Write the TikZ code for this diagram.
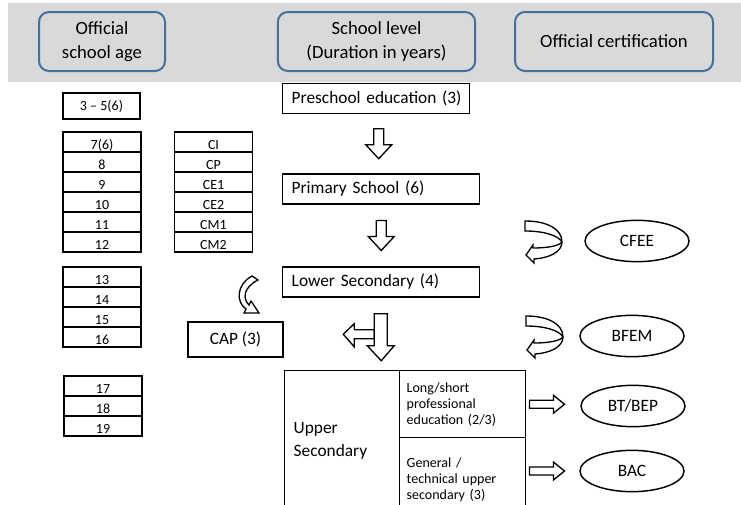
\documentclass[tikz,border=0pt]{standalone}
\usepackage{fontspec}
\setmainfont{Carlito}
\usepackage{tikz}
\usepackage{xcolor}
\usetikzlibrary{shapes.geometric,calc}
\definecolor{bandgray}{HTML}{D9D9D9}
\definecolor{hdblue}{HTML}{41719C}
\newcommand{\mainsz}{\fontsize{13}{17}\selectfont}
\newcommand{\headsz}{\fontsize{14}{17.5}\selectfont}
\newcommand{\smallsz}{\fontsize{10.5}{12}\selectfont}

\begin{document}
\begin{tikzpicture}[x=0.75pt, y=-0.75pt, line width=1.1pt, font=\mainsz,
	hdbox/.style={draw=hdblue, fill=bandgray, line width=1.5pt, rounded corners=7.5pt, align=center, font=\headsz, minimum height=44.25pt},
	lvlbox/.style={draw, anchor=west, align=left, text width=#1, inner xsep=3pt, minimum height=22.5pt, execute at begin node={\hspace*{3.75pt}}},
	agecell/.style={draw, font=\smallsz, minimum width=58.5pt, minimum height=15pt, inner sep=0pt, text height=10.5pt, text depth=0pt},
	subcell/.style={draw, anchor=north west, font=\smallsz, align=left, text width=84pt, inner xsep=5.25pt},
	certell/.style={draw, ellipse, minimum width=78pt, minimum height=31pt, inner sep=0pt},
	blockarr/.style={draw, fill=white, line width=1pt, line join=miter},
	downarr/.pic={\draw[blockarr] (-5,-15) -- (5,-15) -- (5,1) -- (13,1) -- (0,15) -- (-13,1) -- (-5,1) -- cycle;},
	rightarr/.pic={\draw[blockarr] (0,-4) -- (24,-4) -- (24,-9) -- (35,0) -- (24,9) -- (24,4) -- (0,4) -- cycle;},
	turnarr/.pic={\draw[blockarr] (0,0) .. controls (22,0) and (37,8) .. (37,21) .. controls (37,31) and (24,37) .. (9,38) -- (9,42) -- (1,34) -- (8,24) -- (8,27) .. controls (22,27) and (34,25) .. (37,21) .. controls (33,14) and (18,10) .. (0,10) -- cycle;}]
	\useasboundingbox (0,0) rectangle (741,504);
	\fill[bandgray] (8,3) rectangle (741,82);
	\draw (102,41.5) node[hdbox, minimum width=94.5pt] (agehd) {Official\\school age};
	\draw (376.5,41.5) node[hdbox, minimum width=148pt] (levelhd) {School level\\(Duration in years)};
	\draw (614,41.5) node[hdbox, minimum width=148.5pt] (certhd) {Official certification};
	\draw (101.5,106) node[draw, font=\smallsz, minimum width=58pt, minimum height=19.5pt] (agepre) {3 -- 5(6)};
	\foreach \t [count=\i] in {7(6),8,9,10,11,12}
		\node[agecell] (age\i) at (102,{122+20*\i}) {\t};
	\foreach \t [count=\i] in {CI,CP,CE1,CE2,CM1,CM2}
		\node[agecell] (grade\i) at (213.5,{122+20*\i}) {\t};
	\foreach \t [count=\i] in {13,14,15,16}
		\node[agecell] (agelow\i) at (102,{257+20*\i}) {\t};
	\foreach \t [count=\i] in {17,18,19}
		\node[agecell] (ageup\i) at (103,{366+20*\i}) {\t};
	\draw (282,98.5) node[lvlbox=134.25pt] (pre) {Preschool education (3)};
	\draw (282,189) node[lvlbox=141.75pt] (prim) {Primary School (6)};
	\draw (282,282) node[lvlbox=141.75pt] (lowsec) {Lower Secondary (4)};
	\draw (235.5,339.5) node[draw, minimum width=71.25pt, minimum height=26.25pt] (cap) {CAP (3)};
	\draw (284,370) node[draw, anchor=north west, minimum height=105pt, text width=72.75pt, align=left, inner xsep=6.75pt] (upsec) {Upper\\Secondary};
	\node[subcell, minimum height=50.25pt] (longpro) at (399,370) {Long/short\\professional\\education (2/3)};
	\node[subcell, minimum height=63pt] (gentech) at (399,437) {General /\\technical upper\\secondary (3)};
	\node[certell] (cfee) at (637,241) {CFEE};
	\node[certell] (bfem) at (632,336) {BFEM};
	\node[certell] (btbep) at (633,406) {BT/BEP};
	\node[certell] (bac) at (632,471) {BAC};
	\pic at ($(pre.south)!0.5!(prim.north)$) {downarr};
	\pic at ($(prim.south)!0.5!(lowsec.north)$) {downarr};
	\coordinate (split) at ($(lowsec.south)+(0,16)$);
	\begin{scope}[shift={(split)}]
		\draw[blockarr] (-7,16) -- (-27,16) -- (-27,10) -- (-38,20.5) -- (-27,33) -- (-27,25) -- (-7,25) -- cycle;
		\draw[blockarr] (-7,0) -- (6,0) -- (6,32) -- (13,32) -- (0,47) -- (-14,32) -- (-7,32) -- cycle;
	\end{scope}
	\draw[blockarr] (252,276) .. controls (236,285) and (236,302) .. (246,309) -- (244,313) -- (259,313) -- (251,301) -- (249,305) .. controls (242,298) and (244,287) .. (258,280) -- cycle;
	\pic at (525,221) {turnarr};
	\pic at (526,316) {turnarr};
	\pic at ($(longpro.east)+(3,0)$) {rightarr};
	\pic at ($(gentech.east|-bac)+(3,0)$) {rightarr};
\end{tikzpicture}
\end{document}
